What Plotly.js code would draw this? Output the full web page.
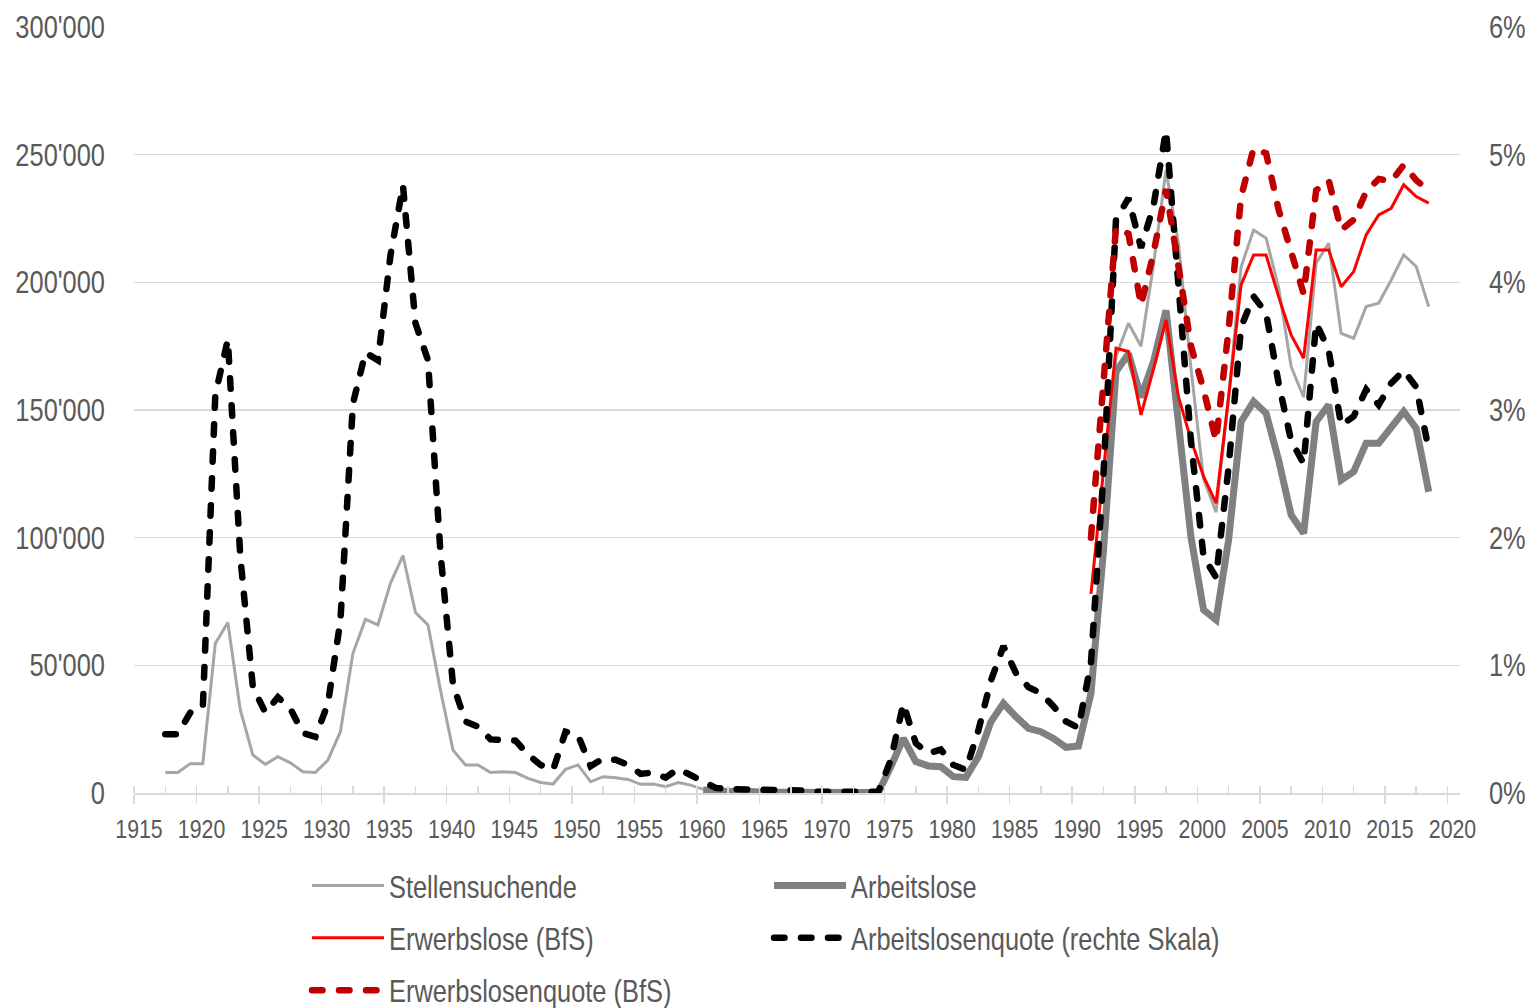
<!DOCTYPE html>
<html>
<head>
<meta charset="utf-8">
<script src="https://cdn.plot.ly/plotly-3.0.1.min.js"></script>
<style>html,body{margin:0;padding:0;background:#fff;}#chart{width:1531px;height:1008px;}</style>
</head>
<body>
<div id="chart"></div>
<script>
// Years 1917..2018
const years = [];
for (let y = 1917; y <= 2018; y++) years.push(y);

// Stellensuchende (1917-1960, then 1992-2018)
const stellensuchendeEarly = [8000, 8000, 11500, 11500, 58600, 66800, 32500, 14900, 11200, 14200,
  11800, 8300, 8000, 12900, 24000, 54700, 68000, 65800, 82100, 93000,
  70700, 65800, 40300, 16800, 11000, 11000, 8000, 8300, 8000, 5700,
  4100, 3500, 9300, 11000, 4400, 6400, 6000, 5300, 3400, 3500,
  2500, 4100, 3100, 1400];
const stellensuchendeLate = [100000, 171000, 184000, 175000, 207000, 244000, 215000, 166000, 123000, 110000,
  155000, 206000, 220500, 217300, 198000, 167000, 155000, 207500, 215300, 180000,
  178100, 190500, 191800, 200900, 210700, 206200, 190500];

// Arbeitslose (1960-2018)
const arbeitslose = [1200, 600, 600, 800, 400, 300, 300, 300, 200, 200,
  100, 100, 100, 100, 200, 10300, 21400, 12300, 10600, 10300,
  6400, 6100, 14200, 27900, 35100, 29900, 25300, 24000, 21400, 17900,
  18400, 39000, 95000, 165000, 172000, 155000, 169000, 189000, 142000, 100000,
  71700, 67800, 99100, 145400, 153300, 148700, 130400, 108900, 101700, 145400,
  152000, 122600, 125900, 137000, 137000, 142800, 149400, 142800, 118000];

// Erwerbslose BfS (1991-2018)
const erwerbslose = [78000, 126000, 174200, 172900, 148100, 166000, 185300, 155000, 138300, 124000,
  113500, 155000, 199000, 210700, 210700, 194400, 179400, 170300, 212700, 212700,
  198300, 204200, 218600, 226400, 229000, 238200, 233600, 231000];

// Arbeitslosenquote in % (1917-2018)
const arbeitslosenquote = [0.46, 0.46, 0.63, 0.67, 3.12, 3.55, 1.85, 0.83, 0.63, 0.75,
  0.66, 0.47, 0.44, 0.70, 1.35, 3.05, 3.45, 3.39, 4.21, 4.76,
  3.68, 3.39, 1.88, 0.85, 0.56, 0.52, 0.42, 0.42, 0.41, 0.30,
  0.22, 0.18, 0.48, 0.45, 0.21, 0.27, 0.26, 0.22, 0.15, 0.16,
  0.12, 0.19, 0.14, 0.08, 0.04, 0.03, 0.03, 0.02, 0.02, 0.02,
  0.02, 0.02, 0.01, 0.01, 0.00, 0.00, 0.00, 0.01, 0.26, 0.70,
  0.39, 0.31, 0.34, 0.22, 0.18, 0.49, 0.88, 1.15, 0.94, 0.83,
  0.78, 0.68, 0.56, 0.51, 1.02, 2.50, 4.49, 4.66, 4.27, 4.60,
  5.19, 3.90, 2.75, 1.85, 1.69, 2.55, 3.65, 3.89, 3.76, 3.21,
  2.76, 2.58, 3.68, 3.47, 2.88, 2.95, 3.16, 3.04, 3.21, 3.31,
  3.18, 2.69];

// Erwerbslosenquote BfS in % (1991-2018)
const erwerbslosenquote = [2.00, 3.20, 4.43, 4.38, 3.82, 4.23, 4.73, 4.12, 3.50, 3.16,
  2.76, 3.63, 4.67, 5.05, 5.01, 4.57, 4.23, 3.91, 4.72, 4.80,
  4.41, 4.49, 4.71, 4.81, 4.79, 4.92, 4.80, 4.72];

const names = ["Stellensuchende", "Arbeitslose", "Erwerbslose (BfS)",
  "Arbeitslosenquote (rechte Skala)", "Erwerbslosenquote (BfS)"];

function seriesFrom(startYear, vals) {
  const idx = years.indexOf(startYear);
  return years.map((y, i) => (i >= idx && i - idx < vals.length) ? vals[i - idx] : null);
}
const stellensuchende = years.map(y => null);
stellensuchendeEarly.forEach((v, i) => { stellensuchende[i] = v; });
const lateStart = years.indexOf(1992);
stellensuchendeLate.forEach((v, i) => { stellensuchende[lateStart + i] = v; });

// values are plotted at mid-year
const xs = years.map(y => y + 0.5);
const FONT = '"Liberation Sans", Arial, sans-serif';
const TXT = '#595959';
const DASH = '17px,10px';

const traces = [
  {x: xs, y: stellensuchende, name: names[0], type: 'scatter', mode: 'lines',
   line: {color: '#a6a6a6', width: 3}, legend: 'legend', legendgroup: 'a', connectgaps: false},
  {x: xs, y: seriesFrom(1960, arbeitslose), name: names[1], type: 'scatter', mode: 'lines',
   line: {color: '#808080', width: 7}, legend: 'legend2', legendgroup: 'b'},
  {x: xs, y: seriesFrom(1991, erwerbslose), name: names[2], type: 'scatter', mode: 'lines',
   line: {color: '#ff0000', width: 3}, legend: 'legend', legendgroup: 'c'},
  {x: xs, y: arbeitslosenquote, name: names[3], type: 'scatter', mode: 'lines', yaxis: 'y2',
   line: {color: '#000000', width: 6.5, dash: DASH}, legend: 'legend2', legendgroup: 'd'},
  {x: xs, y: seriesFrom(1991, erwerbslosenquote), name: names[4], type: 'scatter', mode: 'lines', yaxis: 'y2',
   line: {color: '#c00000', width: 6.5, dash: DASH}, legend: 'legend', legendgroup: 'e'}
];

const layout = {
  width: 1531, height: 1008,
  margin: {l: 134, r: 71, t: 27, b: 215, autoexpand: false},
  paper_bgcolor: '#ffffff', plot_bgcolor: '#ffffff',
  separators: ".'",
  font: {family: FONT, color: TXT, size: 26},
  showlegend: true,
  xaxis: {
    range: [1915, 2021], tickmode: 'linear', tick0: 1915, dtick: 5,
    ticks: 'outside', ticklen: 9, tickwidth: 1.5, tickcolor: '#d9d9d9',
    showline: true, linecolor: '#d9d9d9', linewidth: 1.5,
    showgrid: false, zeroline: false,
    tickfont: {family: FONT, size: 26, color: TXT},
    ticklabelshift: 5, ticklabelstandoff: 3,
    minor: {tick0: 1915, dtick: 2.5, ticks: 'inside', ticklen: 7, tickwidth: 1.5, tickcolor: '#d9d9d9', showgrid: false}
  },
  yaxis: {
    range: [0, 300000], tickmode: 'linear', tick0: 0, dtick: 50000, tickformat: ',',
    showgrid: true, gridcolor: '#d9d9d9', gridwidth: 1.5, zeroline: false, showline: false,
    ticks: '', ticklabelstandoff: 28,
    tickfont: {family: FONT, size: 31, color: TXT}
  },
  yaxis2: {
    overlaying: 'y', side: 'right', range: [0, 6], tickmode: 'linear', tick0: 0, dtick: 1,
    ticksuffix: '%', showgrid: false, zeroline: false, showline: false, ticks: '',
    ticklabelstandoff: 28,
    tickfont: {family: FONT, size: 31, color: TXT}
  },
  legend: {
    x: (307 - 134) / 1326, y: -0.086, xanchor: 'left', yanchor: 'top',
    orientation: 'v', tracegroupgap: 9, itemwidth: 72,
    font: {family: FONT, size: 31, color: TXT}, bgcolor: 'rgba(0,0,0,0)'
  },
  legend2: {
    x: (769 - 134) / 1326, y: -0.086, xanchor: 'left', yanchor: 'top',
    orientation: 'v', tracegroupgap: 9, itemwidth: 72,
    font: {family: FONT, size: 31, color: TXT}, bgcolor: 'rgba(0,0,0,0)'
  }
};

Plotly.newPlot('chart', traces, layout, {displayModeBar: false, staticPlot: true}).then(gd => {
  // narrow the text horizontally (like a condensed face), keeping each text's anchor
  gd.querySelectorAll('svg text').forEach(t => {
    const x = parseFloat(t.getAttribute('x')) || 0;
    const prev = t.getAttribute('transform') || '';
    t.setAttribute('transform', prev + ' translate(' + x + ',0) scale(0.82,1) translate(' + (-x) + ',0)');
  });
  // rounded dash ends on the dashed lines
  gd.querySelectorAll('path').forEach(p => {
    const cs = window.getComputedStyle(p).strokeDasharray;
    if (cs && cs !== 'none' && cs.indexOf('17') !== -1) {
      p.style.strokeLinecap = 'round';
      p.style.strokeDasharray = '10.5px,16.5px';
    }
  });
});
</script>
</body>
</html>
